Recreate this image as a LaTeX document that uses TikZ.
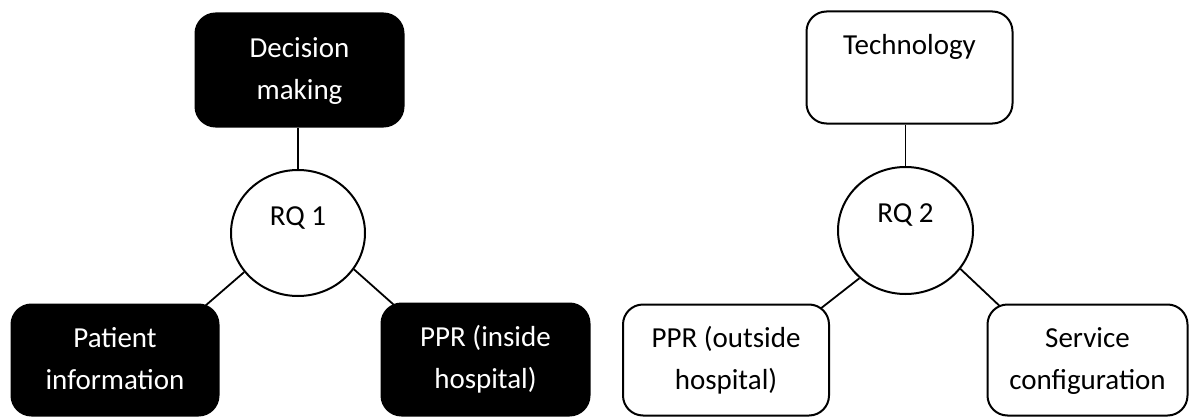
\documentclass[tikz,border=0pt]{standalone}
\usepackage{fontspec}
\setmainfont{Carlito}
\usetikzlibrary{shapes.geometric,backgrounds}
\begin{document}
\begin{tikzpicture}[x=1pt,y=-1pt,
  topic/.style={draw=black, line width=2pt, rounded corners=20pt, align=center,
    inner sep=0pt, font=\fontsize{29}{42}\selectfont},
  darktopic/.style={topic, fill=black, text=white},
  lighttopic/.style={topic, fill=white, text=black},
  rq/.style={ellipse, draw=black, fill=white, line width=2pt, align=center,
    inner sep=0pt, font=\fontsize{29}{42}\selectfont},
  link/.style={draw=black, line width=1.8pt}]
\useasboundingbox (0,0) rectangle (1190,417);

% research question 1
\node[rq, minimum width=134pt, minimum height=126pt] (rq1) at (298,233) {\strut RQ 1\\[-10pt]\strut};
\node[darktopic, minimum width=208pt, minimum height=113pt] (dec) at (299.5,70) {\strut Decision\\\strut making};
\node[darktopic, minimum width=207pt, minimum height=111pt] (pat) at (115,360) {\strut Patient\\\strut information};
\node[darktopic, minimum width=208pt, minimum height=112pt] (ppr1) at (485.5,359.5) {\strut PPR (inside\\\strut hospital)};

% research question 2
\node[rq, minimum width=135pt, minimum height=127pt] (rq2) at (905.5,230.5) {\strut RQ 2\\[-10pt]\strut};
\node[lighttopic, minimum width=206pt, minimum height=112pt] (tech) at (909.5,67.5) {\strut Technology\\\strut};
\node[lighttopic, minimum width=206pt, minimum height=111pt] (ppr2) at (726,360) {\strut PPR (outside\\\strut hospital)};
\node[lighttopic, minimum width=200pt, minimum height=111pt] (svc) at (1087.5,360) {\strut Service\\\strut configuration};

% connectors, kept behind the boxes
\begin{scope}[on background layer]
  \draw[link] (rq1.north) -- (rq1.north |- dec.south);
  \draw[link] (rq1.216) -- ([shift={(-22,9)}]pat.north east);
  \draw[link] (rq1.327) -- ([shift={(22,10)}]ppr1.north west);
  \draw[link] (rq2.north) -- (rq2.north |- tech.south);
  \draw[link] (rq2.226) -- ([shift={(-17,11)}]ppr2.north east);
  \draw[link] (rq2.325) -- ([shift={(19,8)}]svc.north west);
\end{scope}
\end{tikzpicture}
\end{document}
